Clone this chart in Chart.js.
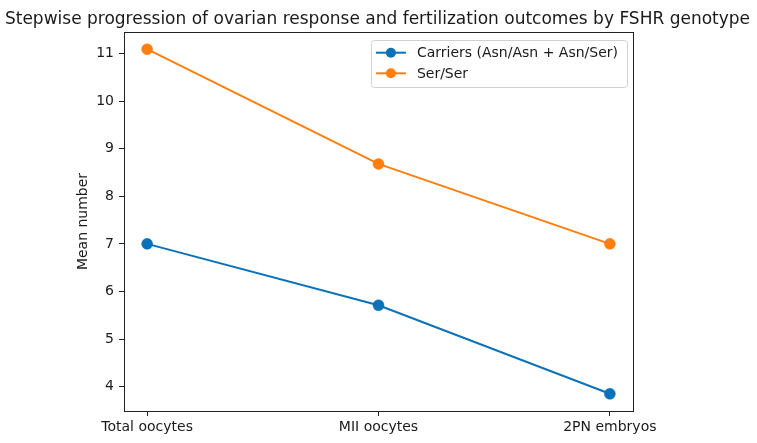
<!DOCTYPE html>
<html>
<head>
<meta charset="utf-8">
<script src="https://cdn.jsdelivr.net/npm/chart.js@4.4.1/dist/chart.umd.min.js"></script>
<style>
  html, body { margin: 0; padding: 0; background: #fff; }
  #wrap { width: 757px; height: 443px; }
</style>
</head>
<body>
<div id="wrap"><canvas id="line-chart" width="757" height="443"></canvas></div>
<script>
// chart data
var categories = ['Total oocytes', 'MII oocytes', '2PN embryos'];
var carriersValues = [7.0, 5.71, 3.85];
var serSerValues = [11.09, 8.68, 7.0];
var yTicks = [4, 5, 6, 7, 8, 9, 10, 11];
var seriesNames = ['Carriers (Asn/Asn + Asn/Ser)', 'Ser/Ser'];
var seriesColors = ['#0a72b8', '#ff7f0e'];
var chartTitle = 'Stepwise progression of ovarian response and fertilization outcomes by FSHR genotype';

var FONT = 'DejaVu Sans';
var TEXT = '#1a1a1a';

function toPoints(values) {
    return values.map(function(v, i) { return { x: i, y: v }; });
}

// title drawn over the whole canvas width (the built-in one gets squeezed by the side padding)
var titlePlugin = {
    id: 'wideTitle',
    afterDraw: function(chart) {
        var a = chart.chartArea, c = chart.ctx;
        c.save();
        c.font = '17px "' + FONT + '"';
        c.fillStyle = TEXT;
        c.textAlign = 'center';
        c.textBaseline = 'alphabetic';
        c.fillText(chartTitle, (a.left + a.right) / 2 - 1, 24);
        c.restore();
    }
};

// frame round the plot area (matplotlib style box)
var framePlugin = {
    id: 'frame',
    afterDatasetsDraw: function(chart) {
        var a = chart.chartArea, c = chart.ctx;
        c.save();
        c.strokeStyle = '#222';
        c.lineWidth = 1;
        c.strokeRect(Math.round(a.left) + 0.5, Math.round(a.top) + 0.5,
            Math.round(a.right - a.left), Math.round(a.bottom - a.top));
        c.restore();
    }
};

// legend box drawn inside the plot, upper right
var legendPlugin = {
    id: 'innerLegend',
    afterDraw: function(chart) {
        var a = chart.chartArea, c = chart.ctx;
        c.save();
        c.font = '14px "' + FONT + '"';
        var maxW = 0;
        chart.data.datasets.forEach(function(ds) {
            maxW = Math.max(maxW, c.measureText(ds.label).width);
        });
        var w = 46 + maxW + 9, h = 47;
        var x = a.right - 6 - w, y = a.top + 8;
        c.fillStyle = 'rgba(255,255,255,0.85)';
        c.strokeStyle = '#d0d0d0';
        c.lineWidth = 1;
        c.beginPath();
        c.roundRect(Math.round(x) + 0.5, Math.round(y) + 0.5, Math.round(w), h, 3);
        c.fill();
        c.stroke();
        chart.data.datasets.forEach(function(ds, i) {
            var cy = y + 12.7 + i * 20.6;
            c.strokeStyle = ds.borderColor;
            c.lineWidth = 2;
            c.beginPath();
            c.moveTo(x + 5, cy);
            c.lineTo(x + 35, cy);
            c.stroke();
            c.fillStyle = ds.borderColor;
            c.beginPath();
            c.arc(x + 20, cy, 5, 0, Math.PI * 2);
            c.fill();
            c.fillStyle = TEXT;
            c.textBaseline = 'middle';
            c.textAlign = 'left';
            c.fillText(ds.label, x + 46, cy + 1);
        });
        c.restore();
    }
};

function createChart() {
    var ctx = document.getElementById('line-chart').getContext('2d');
    return new Chart(ctx, {
        type: 'line',
        data: {
            datasets: [{
                label: seriesNames[0],
                data: toPoints(carriersValues),
                borderColor: seriesColors[0],
                backgroundColor: seriesColors[0],
                borderWidth: 2,
                pointRadius: 5.5,
                pointBorderWidth: 0.5,
                pointHoverRadius: 5.5,
                tension: 0
            }, {
                label: seriesNames[1],
                data: toPoints(serSerValues),
                borderColor: seriesColors[1],
                backgroundColor: seriesColors[1],
                borderWidth: 2,
                pointRadius: 5.5,
                pointBorderWidth: 0.5,
                pointHoverRadius: 5.5,
                tension: 0
            }]
        },
        plugins: [framePlugin, legendPlugin, titlePlugin],
        options: {
            responsive: false,
            maintainAspectRatio: false,
            animation: false,
            layout: { padding: { left: 66, right: 124, top: 32, bottom: 0 } },
            plugins: {
                legend: { display: false },
                tooltip: { enabled: false },
                title: { display: false }
            },
            scales: {
                x: {
                    type: 'linear',
                    min: -0.1,
                    max: 2.1,
                    afterBuildTicks: function(scale) {
                        scale.ticks = categories.map(function(_, i) { return { value: i }; });
                    },
                    afterFit: function(scale) { scale.height = 32; },
                    ticks: {
                        color: TEXT,
                        font: { family: FONT, size: 14 },
                        padding: 3,
                        maxRotation: 0,
                        autoSkip: false,
                        callback: function(v) { return categories[v]; }
                    },
                    grid: { display: true, drawOnChartArea: false, drawTicks: true, tickLength: 5, color: '#222' },
                    border: { display: true, color: '#222' }
                },
                y: {
                    min: 3.488,
                    max: 11.452,
                    afterBuildTicks: function(scale) {
                        scale.ticks = yTicks.map(function(v) { return { value: v }; });
                    },
                    afterFit: function(scale) { scale.width = 58; },
                    ticks: {
                        color: TEXT,
                        font: { family: FONT, size: 14 },
                        padding: 5
                    },
                    grid: { display: true, drawOnChartArea: false, drawTicks: true, tickLength: 5, color: '#222' },
                    border: { display: true, color: '#222' },
                    title: {
                        display: true,
                        text: 'Mean number',
                        color: TEXT,
                        font: { family: FONT, size: 14 },
                        padding: { top: 9, bottom: 0 }
                    }
                }
            }
        }
    });
}

document.addEventListener('DOMContentLoaded', function() {
    createChart();
});
</script>
</body>
</html>
